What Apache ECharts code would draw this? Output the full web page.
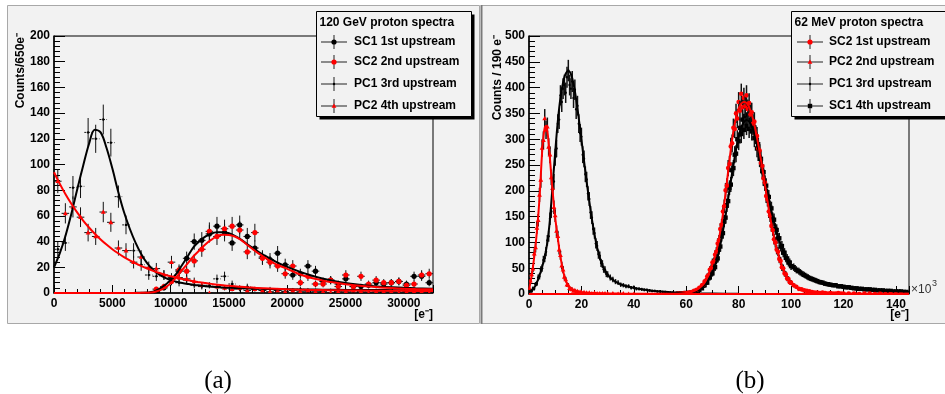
<!DOCTYPE html>
<html><head><meta charset="utf-8">
<script src="https://cdn.jsdelivr.net/npm/echarts@6/dist/echarts.min.js"></script>
<style>html,body{margin:0;padding:0;background:#fff}#c{width:945px;height:394px}</style>
</head><body><div id="c"></div>
<script>
// ================= Panel (a): 120 GeV proton spectra =================
const aTitle = '120 GeV proton spectra';
const aNames = ['SC1 1st upstream', 'SC2 2nd upstream', 'PC1 3rd upstream', 'PC2 4th upstream'];
const aXRange = [0, 32500], aXStep = 5000;
const aYRange = [0, 200], aYStep = 20;

const aBinsPC = [325,975,1625,2275,2925,3575,4225,4875,5525,6175,6825,7475,8125,8775,9425,10075,10725,11375,12025,12675,13325,13975,14625,15275,15925,16575,17225,17875,18525,19175,19825,20475,21125,21775,22425,23075,23725,24375,25025,25675,26325,26975,27625,28275,28925,29575,30225,30875,31525,32175];
const aPC1 = [34,39,82,83,125,120,135,117,75,53, 33,22,14,13,14,12,8,10,6,5, 6,11,13,7,3,5,3,2,3,2, 1,2,3,1,2,1,2,1,2,1, 0,1,2,1,0,1,1,2,0,1];
const aPC2 = [87,62,67,59,47,44,63,55,35,33, 24,28,20,19,14,24,12,11,9,6, 0,5,4,3,4,2,3,2,1,2, 1,2,1,2,1,1,0,1,1,2, 1,0,1,1,1,0,1,1,1,0];

const aBinsSC = [8775,9425,10075,10725,11375,12025,12675,13325,13975,14625,15275,15925,16575,17225,17875,18525,19175,19825,20475,21125,21775,22425,23075,23725,24375,25025,25675,26325,26975,27625,28275,28925,29575,30225,30875,31525,32175];
const aSC1 = [1,4,11,17,27,40,41,46,52,47, 39,53,44,35,28,26,31,22,14,15, 21,17,9,10,7,11,5,5,6,8, 7,8,9,7,13,13,8];
const aSC2 = [3,5,9,18,17,25,34,48,44,50, 52,49,32,47,27,24,21,15,21,8, 13,7,7,10,5,14,5,13,7,10, 8,8,9,6,7,14,15];

const aFitX = [0,500,1000,1500,2000,2500,3000,3500,4000,4500,5000,5500,6000,6500,7000,7500,8000,8500,9000,9500,10000,10500,11000,11500,12000,12500,13000,13500,14000,14500,15000,15500,16000,16500,17000,17500,18000,19000,20000,21000,22000,23000,24000,25000,26000,27000,28000,29000,30000,31000,32500];
const aFitPC1 = [20,31,45,62,81,99,116,127,125,113, 97,79,63,50,39,30,23,18,14.5,12, 10,8.8,7.8,7,6.3,5.8,5.3,4.9,4.6,4.3, 4.1,3.9,3.7,3.5,3.4,3.3,3.2, 3,2.9,2.8,2.7,2.6,2.5,2.4,2.4,2.3,2.3,2.2,2.2,2.1, 2.1];
const aFitPC2 = [94,84.9,76.6,69.2,62.5,56.4,51,46.1,41.7,37.7, 34.1,30.9,28,25.4,23,20.9,19,17.2,15.7,14.3, 13,11.9,10.9,9.9,9.1,8.3,7.7,7.1,6.5,6, 5.6,5.2,4.8,4.5,4.2,3.9,3.7, 3.3,2.9,2.6,2.4,2.3,2.1,2,1.9,1.8,1.8,1.7,1.7,1.6, 1.6];
const aFitSC1 = [0,0,0,0,0,0,0,0,0,0,0,0,0,0, 0.1,0.2,0.4,1,3,6,10,15,22,29,36,40.5,44,46.3,47.2,47.3,46.5,44.5,41.8,38.5,35.3,32.3,29.5, 24.5,20.3,16.8,13.8,11.3,9.3,7.8,6.6,5.6,4.9,4.4,4,3.7, 3.4];
const aFitSC2 = [0,0,0,0,0,0,0,0,0,0,0,0,0,0,0, 0.1,0.2,0.6,1.8,4,7.5,12.5,18,23.5,29,33.5,38,41.5,44.3,45.3,45.2,44,41.5,38,34.5,31,28, 22.5,18.8,14.8,11.8,9.8,8.2,6.8,5.8,5,4.3,3.8,3.4,3.1, 2.9];

// ================= Panel (b): 62 MeV proton spectra =================
const bTitle = '62 MeV proton spectra';
const bNames = ['SC2 1st upstream', 'PC2 2nd upstream', 'PC1 3rd upstream', 'SC1 4th upstream'];
const bXRange = [0, 145], bXStep = 20;
const bYRange = [0, 500], bYStep = 50;

const bXPC2 = [0,0.5,1,1.5,2,2.5,3,3.5,4,4.5,5,5.5,6,6.5,7,7.5,8,8.5,9,9.5,10,10.5,11,11.5,12,12.5,13,13.5,14,14.5,15,15.5,16,16.5,17,17.5,18,18.5,19,19.5,20,21,22,23,24,25,26,27,28,29,30,32,34,36,38,40];
const bPC2 = [12,26,38,49,78,90,128,143,192,221, 283,298,340,318,324,285,270,226,205,168, 152,122,112,86,75,55,47,33,28,18, 17,11,10,9,6,7,4,5,3,4, 3, 3,2,2,1,2,1,1,1,1,1, 1,0,1,0,0];

const bXPC1 = [0,0.5,1,1.5,2,2.5,3,3.5,4,4.5,5,5.5,6,6.5,7,7.5,8,8.5,9,9.5,10,10.5,11,11.5,12,12.5,13,13.5,14,14.5,15,15.5,16,16.5,17,17.5,18,18.5,19,19.5,20,20.5,21,21.5,22,22.5,23,23.5,24,24.5,25,25.5,26,26.5,27,27.5,28,28.5,29,29.5,30,31,32,33,34,35,36,37,38,39,40,41,42,43,44,45,46,47,48,49,50,51,52,53,54,55,56,57,58,59,60,62,64];
const bPC1 = [2,6,5,11,10,19,20,32,34,47, 50,66,70,82,104,112,146,160,202,218, 265,282,330,338,385,372,398,405,390,420, 433,405,398,412,380,396,358,365,330,312, 305,270,262,232,222,195,184,158,148,126, 118,98,93,77,74,60,58,48,47,39, 38, 32,28,24,22,18,17,15,15,12,13, 10,10,9,8,8,7,6,6,5,5, 4,4,3,3,3,2,2,2,1,1, 1,1];

const bXSC2 = [56,57,58,59,60,61,62,63,64,65,66,66.5,67,67.5,68,68.5,69,69.5,70,70.5,71,71.5,72,72.5,73,73.5,74,74.5,75,75.5,76,76.5,77,77.5,78,78.5,79,79.5,80,80.5,81,81.5,82,82.5,83,83.5,84,84.5,85,85.5,86,86.5,87,87.5,88,88.5,89,89.5,90,90.5,91,91.5,92,92.5,93,93.5,94,94.5,95,95.5,96,96.5,97,97.5,98,98.5,99,99.5,100,101,102,103,104,105,106,107,108,109,110,111,112,113,114,115,116,117,118,119,120,122,124,126,128,130,132,134,136,138,140,142,144];
const bSC2 = [0,1,1,2,2,3,4,6,8,12, 17,18,24,26,34,36,47,50,61,63, 76,82,98,104,126,134,160,170,201,210, 244,252,286,292,322,320,350,340,372,355, 388,362,380,364,385,358,370,348,352,330, 334,310,306,282,278,254,248,224,216,190, 183,160,152,132,124,106,100,86,82,68, 64,52,50,40,38,30,29,23,22, 17,14,10,9,7,6,5,4,3,3, 2,3,2,1,2,1,1,2,1,1, 1,1,0,1,1,0,1,0,1,0,1,1];

const bXSC1 = [56,57,58,59,60,61,62,63,64,65,66,66.5,67,67.5,68,68.5,69,69.5,70,70.5,71,71.5,72,72.5,73,73.5,74,74.5,75,75.5,76,76.5,77,77.5,78,78.5,79,79.5,80,80.5,81,81.5,82,82.5,83,83.5,84,84.5,85,85.5,86,86.5,87,87.5,88,88.5,89,89.5,90,90.5,91,91.5,92,92.5,93,93.5,94,94.5,95,95.5,96,96.5,97,97.5,98,98.5,99,99.5,100,101,102,103,104,105,106,107,108,109,110,111,112,113,114,115,116,117,118,119,120,121,122,123,124,125,126,127,128,129,130,131,132,133,134,135,136,137,138,139,140,141,142,143,144];
const bSC1 = [0,1,1,1,2,2,3,4,6,8, 11,16,17,23,22,31,32,39,40,50, 52,66,69,86,92,112,118,141,148,172, 180,206,212,240,244,270,272,300,296,322, 310,338,318,345,326,348,320,338,315,326, 302,308,282,286,262,262,238,236,214,210, 190,188,168,166,146,144,126,124,108,108, 92,93,80,80,70,69,61,61,54, 52,47,44,40,37,34,31,29,27,25, 23,22,20,19,18,17,17,15,15,14, 13,13,12,11,11,10,10,9,9,9, 8,8,7,7,7,6,6,6,5,5, 5,5,4,4];

const bFitXPC = [0,1,2,3,4,5,5.5,6,6.5,7,7.5,8,9,10,11,12,13,14,15,16,17,18,19,20,21,22,23,24,25,26,27,28,29,30,32,34,36,38,40,43,46,50,55,60,65,70,80,100,120,145];
const bFitPC2 = [8,35,72,120,185,275, 305,322,326,315,292,262, 200,148,108,72,45,26,16,10,7,5,4,3.5,3,2.5,2.2,2,1.8,1.6,1.5,1.3,1.2,1, 0.9,0.8,0.7,0.6,0.5, 0.4,0.35,0.3,0.2,0.1,0.1,0,0,0,0,0];
const bFitPC1 = [3,6,12,22,36,52, 62,72,85,100,120,145, 210,275,335,380,410,427,432,426,407,377,340,300,258,218,180,145,115,90,71,56,45,37, 27,21,17,14,12, 9,7,5,3,2,1.2,0.8,0.4,0.1,0,0];

const bFitXSC = [0,50,56,58,60,62,64,66,67,68,69,70,71,72,73,74,75,76,77,78,79,80,81,82,83,84,85,86,87,88,89,90,91,92,93,94,95,96,97,98,99,100,102,104,106,108,110,113,116,120,125,130,135,140,145];
const bFitSC2 = [0,0,0.5,1,2,4,8, 16,22,32,45,58,73,95,122,155,195,238,280,315,342,360,369,372,370,362,348,328,303,275,245,213,180,150,122,98,80,62,48,37,28,21, 13,9,6,4,3, 2,1.5,1,0.8,0.6,0.5,0.4,0.4];
const bFitSC1 = [0,0,0.5,0.8,1.5,3,6, 12,18,24,33,42,55,72,95,122,152,185,218,250,280,305,322,333,337,334,325,310,290,268,243,218,195,172,150,130,112,96,83,72,63,55, 47,39,33,28,24, 20,17,14,11,9,7,5.5,4.5];

// ================= rendering =================
const FONT = '"Liberation Sans", Arial, Helvetica, sans-serif';
const BG = '#f2f2f2';
const RED = '#ff0000';

function markerEl(kind, cx, cy, color) {
  if (kind === 'circle') return {type:'circle', shape:{cx, cy, r:2.6}, style:{fill:color}};
  if (kind === 'circleS') return {type:'circle', shape:{cx, cy, r:2.3}, style:{fill:color}};
  if (kind === 'square') return {type:'rect', shape:{x:cx-2.2, y:cy-2.2, width:4.4, height:4.4}, style:{fill:color}};
  if (kind === 'tri') return {type:'polygon', shape:{points:[[cx,cy-2.6],[cx+2.4,cy+1.8],[cx-2.4,cy+1.8]]}, style:{fill:color}};
  return {type:'circle', shape:{cx, cy, r:1.2}, style:{fill:color}};
}

function errSeries(gi, xs, ys, halfW, kind, color, z, dashH, barW) {
  return {
    type:'custom', xAxisIndex:gi, yAxisIndex:gi, z, clip:true, silent:true, animation:false,
    data: xs.map((x, i) => [x, ys[i]]),
    encode:{x:0, y:1},
    renderItem: function (params, api) {
      const x = api.value(0), y = api.value(1);
      const e = Math.sqrt(y);
      const p = api.coord([x, y]);
      const t = api.coord([x, y + e]);
      const b = api.coord([x, y - e]);
      const ch = [];
      ch.push({type:'line', shape:{x1:p[0], y1:t[1], x2:p[0], y2:b[1]}, style:{stroke:'#111', lineWidth:barW}});
      if (halfW > 0) {
        const l = api.coord([x - halfW, y]), r = api.coord([x + halfW, y]);
        ch.push({type:'line', shape:{x1:l[0], y1:p[1], x2:r[0], y2:p[1]}, style:{stroke:'#111', lineWidth:1, lineDash: dashH ? [2, 1.5] : null}});
      }
      ch.push(markerEl(kind, p[0], p[1], color));
      return {type:'group', children: ch};
    }
  };
}

function fitSeries(gi, xs, ys, color, z) {
  return {type:'line', xAxisIndex:gi, yAxisIndex:gi, data: xs.map((x, i) => [x, ys[i]]),
    showSymbol:false, symbol:'none', smooth:0.35, lineStyle:{color, width:2}, z, silent:true, animation:false, clip:true};
}

function xAxisDef(gi, range, step, minorSplit) {
  return {gridIndex:gi, type:'value', min:range[0], max:range[1], interval:step,
    axisLine:{show:true, onZero:false, lineStyle:{color:'#000', width:1.5}},
    axisTick:{show:true, inside:true, length:8, lineStyle:{color:'#000'}},
    minorTick:{show:true, splitNumber:minorSplit, length:4, lineStyle:{color:'#000'}},
    axisLabel:{show:true, margin:5, fontFamily:FONT, fontWeight:'bold', fontSize:12, color:'#000', showMaxLabel:false,
      formatter: v => String(v)},
    splitLine:{show:false}, minorSplitLine:{show:false}};
}
function yAxisDef(gi, range, step, minorSplit) {
  return {gridIndex:gi, type:'value', min:range[0], max:range[1], interval:step,
    axisLine:{show:true, onZero:false, lineStyle:{color:'#000', width:1.5}},
    axisTick:{show:true, inside:true, length:11, lineStyle:{color:'#000'}},
    minorTick:{show:true, splitNumber:minorSplit, length:6, lineStyle:{color:'#000'}},
    axisLabel:{show:true, margin:4, fontFamily:FONT, fontWeight:'bold', fontSize:12, color:'#000',
      formatter: v => String(v)},
    splitLine:{show:false}, minorSplitLine:{show:false}};
}

function legendEls(bx, by, bw, bh, title, names, kinds, colors, mx, tx) {
  const els = [];
  els.push({type:'rect', z:100, shape:{x:bx+3, y:by+3, width:bw, height:bh}, style:{fill:'#000'}});
  els.push({type:'rect', z:101, shape:{x:bx, y:by, width:bw, height:bh}, style:{fill:BG, stroke:'#000', lineWidth:1}});
  els.push({type:'text', z:102, x:bx+3, y:by+11, style:{text:title, font:'bold 12px ' + FONT, fill:'#000', align:'left', verticalAlign:'middle'}});
  const rows = [42, 62, 84, 106];
  names.forEach((n, i) => {
    const y = rows[i];
    els.push({type:'line', z:102, shape:{x1:mx-13, y1:y, x2:mx+13, y2:y}, style:{stroke:'#222', lineWidth:1}});
    els.push({type:'line', z:102, shape:{x1:mx, y1:y-7, x2:mx, y2:y+7}, style:{stroke:'#222', lineWidth:1}});
    const m = markerEl(kinds[i], mx, y, colors[i]); m.z = 103;
    els.push(m);
    els.push({type:'text', z:102, x:tx, y:y, style:{text:n, font:'bold 12px ' + FONT, fill:'#000', align:'left', verticalAlign:'middle'}});
  });
  return els;
}

const chart = echarts.init(document.getElementById('c'), null, {renderer:'canvas'});

const graphics = [
  {type:'rect', z:-10, shape:{x:7.5, y:5.5, width:472, height:318}, style:{fill:BG, stroke:'#a8a8a8', lineWidth:1}},
  {type:'rect', z:-10, shape:{x:481.5, y:5.5, width:470, height:318}, style:{fill:BG, stroke:'#a8a8a8', lineWidth:1}},
  {type:'line', z:-9, shape:{x1:481.5, y1:5, x2:481.5, y2:324}, style:{stroke:'#7a7a7a', lineWidth:2}},
  {type:'text', z:5, x:21, y:33, rotation:Math.PI/2, style:{text:'Counts/650e\u207B', font:'bold 12px ' + FONT, fill:'#000', align:'right', verticalAlign:'middle'}},
  {type:'text', z:5, x:498, y:35, rotation:Math.PI/2, style:{text:'Counts / 190 e\u207B', font:'bold 12px ' + FONT, fill:'#000', align:'right', verticalAlign:'middle'}},
  {type:'text', z:5, x:433, y:315, style:{text:'[e\u207B]', font:'bold 12px ' + FONT, fill:'#000', align:'right', verticalAlign:'middle'}},
  {type:'text', z:5, x:909, y:315, style:{text:'[e\u207B]', font:'bold 12px ' + FONT, fill:'#000', align:'right', verticalAlign:'middle'}},
  {type:'text', z:5, x:911, y:290, style:{text:'\u00D710', font:'12px ' + FONT, fill:'#333', align:'left', verticalAlign:'middle'}},
  {type:'text', z:5, x:932, y:284, style:{text:'3', font:'9px ' + FONT, fill:'#333', align:'left', verticalAlign:'middle'}},
  {type:'text', z:5, x:218, y:381, style:{text:'(a)', font:'25px "Liberation Serif", "DejaVu Serif", serif', fill:'#000', align:'center', verticalAlign:'middle'}},
  {type:'text', z:5, x:750, y:381, style:{text:'(b)', font:'25px "Liberation Serif", "DejaVu Serif", serif', fill:'#000', align:'center', verticalAlign:'middle'}}
].concat(
  legendEls(316.5, 11.5, 155, 105, aTitle, aNames, ['circle','circle','dot','tri'], ['#000', RED, '#000', RED], 334, 354),
  legendEls(791.5, 11.5, 160, 105, bTitle, bNames, ['circle','tri','dot','square'], [RED, RED, '#000', '#000'], 810, 829)
);

chart.setOption({
  animation:false,
  backgroundColor:'#ffffff',
  grid:[
    {left:54, top:36, width:379, height:257, show:true, borderColor:'#000', borderWidth:1, backgroundColor:'transparent'},
    {left:529, top:36, width:380, height:258, show:true, borderColor:'#000', borderWidth:1, backgroundColor:'transparent'}
  ],
  xAxis:[ xAxisDef(0, aXRange, aXStep, 5), xAxisDef(1, bXRange, bXStep, 4) ],
  yAxis:[ yAxisDef(0, aYRange, aYStep, 5), yAxisDef(1, bYRange, bYStep, 5) ],
  series:[
    errSeries(0, aBinsSC, aSC1, 325, 'circle', '#000', 3, false, 1),
    errSeries(0, aBinsSC, aSC2, 325, 'circle', RED, 4, false, 1),
    errSeries(0, aBinsPC, aPC1, 325, 'dot', '#000', 3, true, 1),
    errSeries(0, aBinsPC, aPC2, 325, 'tri', RED, 4, false, 1),
    fitSeries(0, aFitX, aFitSC1, '#000', 6),
    fitSeries(0, aFitX, aFitPC1, '#000', 6),
    fitSeries(0, aFitX, aFitSC2, RED, 7),
    fitSeries(0, aFitX, aFitPC2, RED, 7),

    errSeries(1, bXSC1, bSC1, 0, 'square', '#000', 3, false, 1.5),
    errSeries(1, bXPC1, bPC1, 0, 'dot', '#000', 3, false, 1.5),
    errSeries(1, bXPC2, bPC2, 0, 'tri', RED, 4, false, 1.5),
    errSeries(1, bXSC2, bSC2, 0, 'circleS', RED, 4, false, 1.5),
    fitSeries(1, bFitXSC, bFitSC1, '#000', 6),
    fitSeries(1, bFitXPC, bFitPC1, '#000', 6),
    fitSeries(1, bFitXSC, bFitSC2, RED, 7),
    fitSeries(1, bFitXPC, bFitPC2, RED, 7)
  ],
  graphic:{elements: graphics}
});
</script></body></html>
